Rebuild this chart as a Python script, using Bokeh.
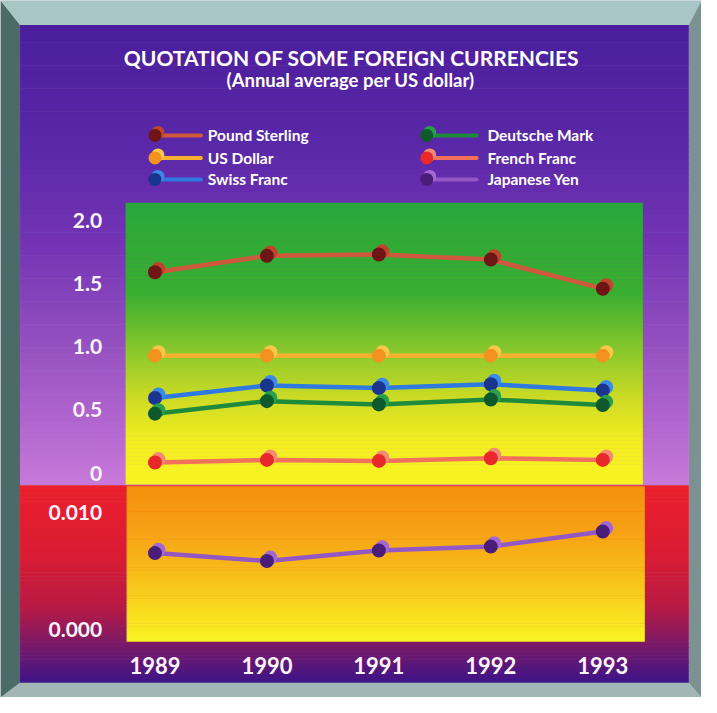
from bokeh.plotting import figure
from bokeh.models import Range1d, LinearAxis, FixedTicker, NumeralTickFormatter
from bokeh.core.properties import value
from bokeh.embed import file_html
from bokeh.resources import INLINE

# ---------------- data ----------------
years = [1989, 1990, 1991, 1992, 1993]
series_names = ["Pound Sterling", "US Dollar", "Swiss Franc",
                "Deutsche Mark", "French Franc", "Japanese Yen"]
pound_sterling = [1.59, 1.72, 1.73, 1.69, 1.46]
us_dollar = [0.93, 0.93, 0.93, 0.93, 0.93]
swiss_franc = [0.595, 0.694, 0.673, 0.704, 0.655]
deutsche_mark = [0.471, 0.570, 0.544, 0.583, 0.539]
french_franc = [0.084, 0.105, 0.097, 0.118, 0.105]
japanese_yen = [0.00653, 0.00585, 0.00675, 0.00709, 0.00839]
upper_ticks = [0, 0.5, 1.0, 1.5, 2.0]
upper_tick_labels = ["0", "0.5", "1.0", "1.5", "2.0"]
yen_ticks = [0.0, 0.01]
yen_tick_labels = ["0.000", "0.010"]
title_text = "QUOTATION OF SOME FOREIGN CURRENCIES"
subtitle_text = "(Annual average per US dollar)"

# ---------------- styles ----------------
line_cols = ["#d0583c", "#f8b030", "#2e7ae0", "#1e8a3c", "#f2705c", "#9458c4"]
dark_cols = ["#6e1616", "#f49220", "#1a3590", "#0e5a2c", "#e8282a", "#4a1e78"]
light_cols = ["#c0442c", "#f8c848", "#3a8ae8", "#2a9e4a", "#f48a70", "#a468d4"]
FONT = "Lato"

W, H = 701, 697
REF_W, REF_H = 717, 713

# layout mapping (reference pixel -> data units)
X0_PX, X_PER = 158.0, 114.5          # 1989 position, px per year
Y0_PX, Y_PER = 483.5, 129.25         # value 0 position, px per unit
YY0_PX, YY_PER = 643.0, 11900.0      # yen 0 position, px per unit


def X(rx):
    return 1989 + (rx - X0_PX) / X_PER


def Y(ry):
    return (Y0_PX - ry) / Y_PER


def YY(ry):
    return (YY0_PX - ry) / YY_PER


p = figure(width=W, height=H, output_backend="svg", toolbar_location=None,
           x_range=Range1d(X(0), X(REF_W)), y_range=Range1d(Y(REF_H), Y(0)),
           x_axis_type=None, y_axis_type=None, min_border=0,
           background_fill_color="#a8c0c0", border_fill_color="#a8c0c0",
           outline_line_color=None)
p.extra_y_ranges = {"yen": Range1d(YY(REF_H), YY(0))}


def hex2rgb(h):
    h = h.lstrip("#")
    return [int(h[i:i + 2], 16) for i in (0, 2, 4)]


def interp(stops, ry):
    for (a, ca), (b, cb) in zip(stops[:-1], stops[1:]):
        if a <= ry <= b:
            t = (ry - a) / (b - a) if b > a else 0
            c1, c2 = hex2rgb(ca), hex2rgb(cb)
            return "#%02x%02x%02x" % tuple(int(round(c1[k] + (c2[k] - c1[k]) * t)) for k in range(3))
    return stops[-1][1] if ry > stops[-1][0] else stops[0][1]


def vgrad(rx0, rx1, stops, n=60):
    r0, r1 = stops[0][0], stops[-1][0]
    step = (r1 - r0) / n
    tops, bots, cols = [], [], []
    for k in range(n):
        a = r0 + k * step
        b = a + step
        tops.append(Y(a))
        bots.append(Y(min(b + 0.6, r1)))
        cols.append(interp(stops, a + step / 2))
    p.quad(left=X(rx0), right=X(rx1), top=tops, bottom=bots,
           fill_color=cols, line_color=None)


# ---------------- frame (bevel) ----------------
L, T, R, B = 20, 25, 704, 698
bevels = [
    ([0, L, L, 0], [0, T, B, REF_H], "#4c6a68"),
    ([REF_W, R, R, REF_W], [0, T, B, REF_H], "#7c9292"),
    ([0, REF_W, R, L], [0, 0, T, T], "#a9c6c6"),
    ([0, L, R, REF_W], [REF_H, B, B, REF_H], "#a2b6b6"),
]
p.patches(xs=[[X(v) for v in b[0]] for b in bevels],
          ys=[[Y(v) for v in b[1]] for b in bevels],
          fill_color=[b[2] for b in bevels], line_color=None)

# ---------------- panel backgrounds ----------------
vgrad(L, R, [(T, "#4a1e9c"), (150, "#5a28a8"), (250, "#7434b4"),
             (350, "#9450c0"), (440, "#b468d0"), (496, "#c87ada")], 80)
vgrad(L, R, [(496, "#ea1e2c"), (570, "#d81c34"), (620, "#b81a44"),
             (655, "#801a64"), (B, "#3c1488")], 50)
vgrad(128, 657, [(207, "#2aa63c"), (300, "#3aae30"), (360, "#8cc82c"),
                 (410, "#d0dc24"), (450, "#f2ee20"), (495, "#f8f424")], 70)
vgrad(129, 659, [(497, "#f5900e"), (540, "#f6a014"), (590, "#f7c01a"),
                 (630, "#f8e020"), (656, "#f8f424")], 50)

# ---------------- data lines ----------------
upper = [pound_sterling, us_dollar, swiss_franc, deutsche_mark, french_franc]
dx = 3.5 / X_PER
for i, vals in enumerate(upper):
    p.line(years, vals, line_color=line_cols[i], line_width=4.5, line_cap="round")
    p.scatter([x + dx for x in years], [v + 3.5 / Y_PER for v in vals],
              size=14, marker="circle", fill_color=light_cols[i], line_color=None)
    p.scatter(years, vals, size=14, marker="circle",
              fill_color=dark_cols[i], line_color=None)

p.line(years, japanese_yen, y_range_name="yen", line_color=line_cols[5],
       line_width=4.5, line_cap="round")
p.scatter([x + dx for x in years], [v + 3.5 / YY_PER for v in japanese_yen],
          y_range_name="yen", size=14, marker="circle",
          fill_color=light_cols[5], line_color=None)
p.scatter(years, japanese_yen, y_range_name="yen", size=14, marker="circle",
          fill_color=dark_cols[5], line_color=None)

# ---------------- axes ----------------
lab_style = dict(axis_line_color=None, major_tick_line_color=None,
                 minor_tick_line_color=None, major_label_text_color="#fbf4fb",
                 major_label_text_font=FONT, major_label_text_font_style="bold",
                 major_label_text_font_size="21px", major_label_standoff=0,
                 major_tick_out=0, major_tick_in=0)

ax_up = LinearAxis(fixed_location=X(104), ticker=FixedTicker(ticks=upper_ticks),
                   formatter=NumeralTickFormatter(format="0.0"),
                   major_label_overrides=dict(zip(upper_ticks, upper_tick_labels)),
                   **lab_style)
p.add_layout(ax_up, "left")

ax_yen = LinearAxis(fixed_location=X(104), y_range_name="yen",
                    ticker=FixedTicker(ticks=yen_ticks),
                    formatter=NumeralTickFormatter(format="0.000"),
                    major_label_overrides=dict(zip(yen_ticks, yen_tick_labels)),
                    **lab_style)
p.add_layout(ax_yen, "left")

x_style = dict(lab_style)
x_style["major_label_text_font_size"] = "22px"
x_style["major_label_standoff"] = 1
ax_x = LinearAxis(fixed_location=Y(671), ticker=FixedTicker(ticks=years),
                  major_label_overrides={y: str(y) for y in years}, **x_style)
p.add_layout(ax_x, "below")

# ---------------- title ----------------
p.text(x=[X(359)], y=[Y(58)], text=[title_text], text_color="#ffffff",
       text_font=value(FONT), text_font_style="bold", text_font_size="21px",
       text_align="center", text_baseline="middle")
p.text(x=[X(358)], y=[Y(81)], text=[subtitle_text], text_color="#ffffff",
       text_font=value(FONT), text_font_style="bold", text_font_size="18.5px",
       text_align="center", text_baseline="middle")

# ---------------- legend ----------------
col_cx = [158, 436]
col_end = [205, 487]
col_tx = [212, 498]
row_y = [138, 161, 183]
for i, name in enumerate(series_names):
    c, r = i // 3, i % 3
    yy = Y(row_y[r])
    p.segment(x0=[X(col_cx[c])], y0=[yy], x1=[X(col_end[c])], y1=[yy],
              line_color=line_cols[i], line_width=4, line_cap="round")
    p.scatter([X(col_cx[c] + 3)], [Y(row_y[r] - 3)], size=13, marker="circle",
              fill_color=light_cols[i], line_color=None)
    p.scatter([X(col_cx[c])], [yy], size=13, marker="circle",
              fill_color=dark_cols[i], line_color=None)
    p.text(x=[X(col_tx[c])], y=[yy], text=[name], text_color="#ffffff",
           text_font=value(FONT), text_font_style="bold", text_font_size="15.5px",
           text_align="left", text_baseline="middle")

open("out.html", "w").write(file_html(p, INLINE))
